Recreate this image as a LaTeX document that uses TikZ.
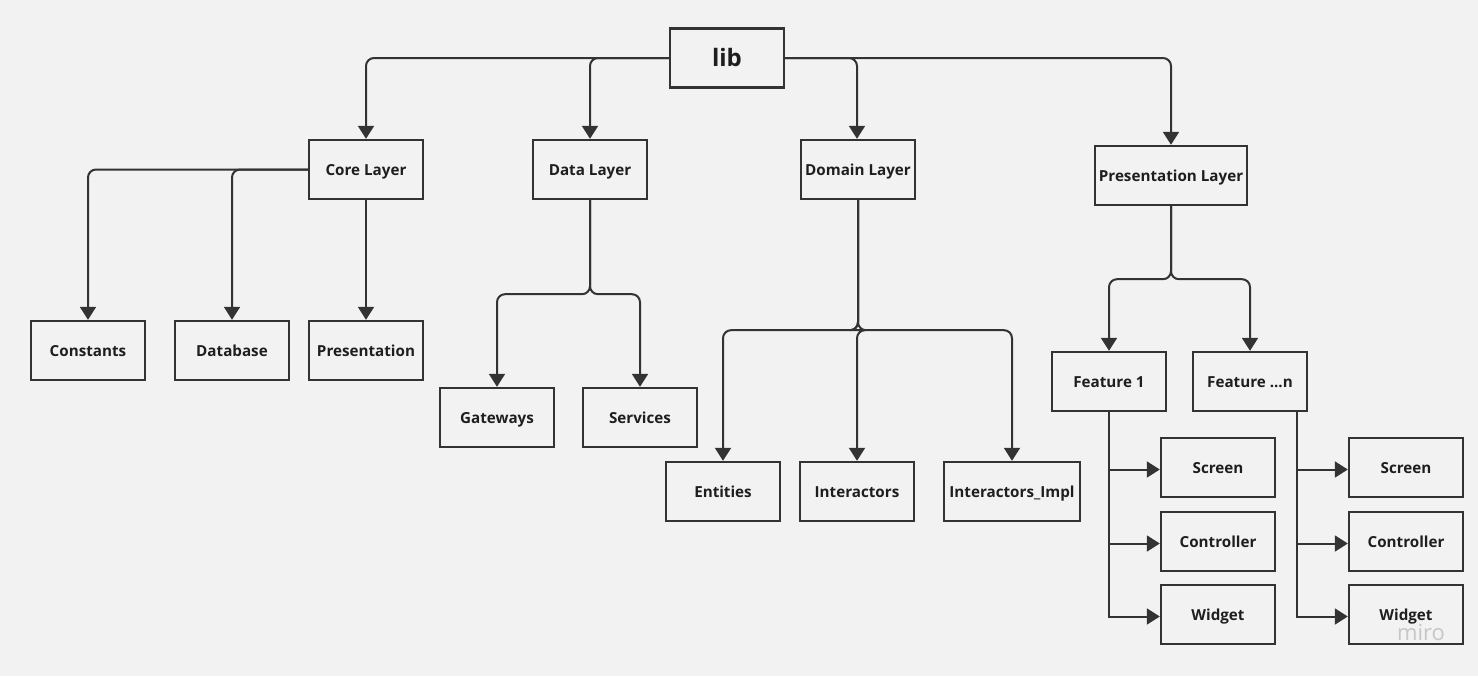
\documentclass[tikz,border=0pt]{standalone}
\usepackage{fontspec}
\setmainfont{Open Sans}
\usetikzlibrary{arrows.meta, positioning, calc}
\definecolor{bgcolor}{RGB}{242,242,242}
\definecolor{linecolor}{RGB}{51,51,51}
\definecolor{textcolor}{RGB}{30,30,30}

\begin{document}
\begin{tikzpicture}[
    x=0.5pt, y=-0.5pt,
    box/.style={draw=linecolor, line width=1.2pt, fill=bgcolor, minimum width=57pt, minimum height=29.5pt, inner sep=2pt, text height=6pt, text depth=0.4pt, text=textcolor, font=\bfseries\fontsize{7.6}{9}\selectfont},
    arrow/.style={-{Triangle[length=6.5pt,width=8pt]}, line width=1pt, draw=linecolor, rounded corners=4pt},
    branch/.style={-{Triangle[length=6.5pt,width=8pt]}, line width=1pt, draw=linecolor}
]
    \fill[bgcolor] (0,0) rectangle (1478,676);
    \useasboundingbox (0,0) rectangle (1478,676);

    % root and layers
    \node[box, font=\bfseries\fontsize{12}{14}\selectfont, text height=9pt, text depth=0.6pt] (lib) at (727,58) {lib};
    \node[box] (core) at (366,169.5) {Core Layer};
    \node[box] (data) at (590,169.5) {Data Layer};
    \node[box] (dom) at (858,169.5) {Domain Layer};
    \node[box, minimum width=76pt] (pres) at (1171,175.5) {Presentation Layer};

    % core layer
    \node[box] (const) at (88,350.5) {Constants};
    \node[box] (datab) at (232,350.5) {Database};
    \node[box] (presn) at (366,350.5) {Presentation};

    % data layer
    \node[box] (gate) at (497,417.5) {Gateways};
    \node[box] (serv) at (640,417.5) {Services};

    % domain layer
    \node[box] (ent) at (723,491.5) {Entities};
    \node[box] (inter) at (857,491.5) {Interactors};
    \node[box, minimum width=68pt] (impl) at (1012,491.5) {Interactors\_Impl};

    % presentation layer
    \node[box] (feat1) at (1109,381.5) {Feature 1};
    \node[box] (featn) at (1250,381.5) {Feature ...n};
    \node[box] (scr1) at (1218,467.5) {Screen};
    \node[box] (ctl1) at (1218,541.5) {Controller};
    \node[box] (wid1) at (1218,614.5) {Widget};
    \node[box] (scrn) at (1406,467.5) {Screen};
    \node[box] (ctln) at (1406,541.5) {Controller};
    \node[box] (widn) at (1406,614.5) {Widget};

    \node[text=gray!45, font=\fontsize{11}{13}\selectfont] (mark) at (1421,633) {miro};

    % connectors
    \draw[arrow] (lib.west) -| (core.north);
    \draw[arrow] (lib.west) -| (data.north);
    \draw[arrow] (lib.east) -| ([xshift=-0.5pt]dom.north);
    \draw[arrow] (lib.east) -| (pres.north);

    \draw[arrow] (core.west) -| (const.north);
    \draw[arrow] (core.west) -| (datab.north);
    \draw[arrow] (core.south) -- (presn.north);

    \draw[arrow] (data.south) -- ++(0,94) -| (gate.north);
    \draw[arrow] (data.south) -- ++(0,94) -| (serv.north);

    \draw[arrow] (dom.south) -- ++(0,130) -| (ent.north);
    \draw[arrow] (dom.south) -- ++(0,130) -| (inter.north);
    \draw[arrow] (dom.south) -- ++(0,130) -| (impl.north);

    \draw[arrow] (pres.south) -- ++(0,73) -| (feat1.north);
    \draw[arrow] (pres.south) -- ++(0,73) -| (featn.north);

    \foreach \child in {scr1, ctl1, wid1}
        \draw[branch] (feat1.south) |- ([yshift=-1pt]\child.west);
    \foreach \child in {scrn, ctln, widn}
        \draw[branch] ($(featn.south)+(47,0)$) |- ([yshift=-1pt]\child.west);
\end{tikzpicture}
\end{document}
